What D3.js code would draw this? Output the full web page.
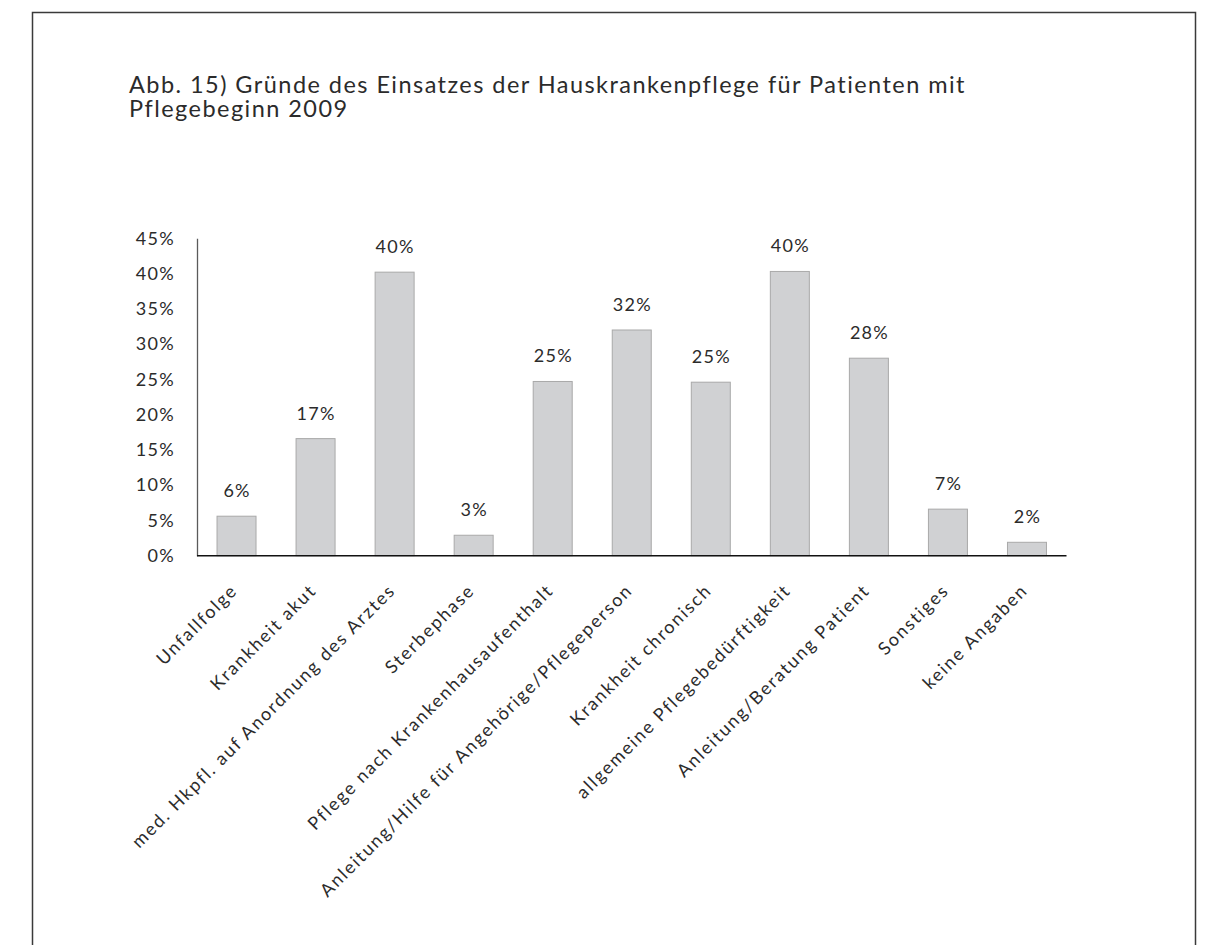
<!DOCTYPE html>
<html lang="de">
<head>
<meta charset="utf-8">
<script src="https://cdn.jsdelivr.net/npm/d3@7"></script>
<style>
  html, body { margin: 0; padding: 0; background: #fff; }
  svg { display: block; }
  text { font-family: Lato, "Noto Sans", sans-serif; fill: #2b2b2b; }
</style>
</head>
<body>
<svg id="chart" width="1208" height="945"></svg>
<script>
// Gründe des Einsatzes der Hauskrankenpflege (Anteil der Patienten, Pflegebeginn 2009)
const categories = [
  "Unfallfolge",
  "Krankheit akut",
  "med. Hkpfl. auf Anordnung des Arztes",
  "Sterbephase",
  "Pflege nach Krankenhausaufenthalt",
  "Anleitung/Hilfe für Angehörige/Pflegeperson",
  "Krankheit chronisch",
  "allgemeine Pflegebedürftigkeit",
  "Anleitung/Beratung Patient",
  "Sonstiges",
  "keine Angaben"
];
const shares = [0.056, 0.166, 0.402, 0.029, 0.247, 0.320, 0.246, 0.403, 0.280, 0.066, 0.019];
const yTicks = [0, 0.05, 0.10, 0.15, 0.20, 0.25, 0.30, 0.35, 0.40, 0.45];
const titleLines = [
  "Abb. 15) Gründe des Einsatzes der Hauskrankenpflege für Patienten mit",
  "Pflegebeginn 2009"
];

const svg = d3.select("#chart");
const pct = d3.format(".0%");

// frame around the figure
svg.append("rect")
  .attr("x", 32.5).attr("y", 12.5)
  .attr("width", 1163).attr("height", 960)
  .attr("fill", "none").attr("stroke", "#3a3a3a").attr("stroke-width", 1.5);

// title
svg.append("text")
  .attr("x", 129).attr("y", 93)
  .style("font-size", "23.5px")
  .style("letter-spacing", "1.45px")
  .selectAll("tspan").data(titleLines).join("tspan")
  .attr("x", 129).attr("dy", (d, i) => i ? 24 : 0)
  .text(d => d);

const plot = { left: 197, right: 1066.5, top: 238.3, bottom: 555.7 };

const x = d3.scaleBand()
  .domain(categories)
  .range([plot.left, plot.right])
  .paddingInner(0.494)
  .paddingOuter(0.247);

const y = d3.scaleLinear()
  .domain([0, 0.45])
  .range([plot.bottom, plot.top]);

// y axis: vertical line and percent labels, no tick marks
const yAxis = svg.append("g")
  .attr("transform", `translate(${plot.left},0)`)
  .call(d3.axisLeft(y).tickValues(yTicks).tickFormat(pct).tickSize(0).tickPadding(22));
yAxis.select(".domain").attr("stroke", "#5a5a5a").attr("stroke-width", 1.3);
yAxis.selectAll(".tick text")
  .attr("fill", "#2b2b2b")
  .style("font-family", "Lato, 'Noto Sans', sans-serif")
  .style("font-size", "18px")
  .style("letter-spacing", "1.3px");

// bars
svg.append("g").selectAll("rect").data(shares).join("rect")
  .attr("x", (d, i) => x(categories[i]) + 0.5)
  .attr("y", d => y(d))
  .attr("width", x.bandwidth() - 1)
  .attr("height", d => y(0) - y(d))
  .attr("fill", "#d0d1d3")
  .attr("stroke", "#a9a9a9")
  .attr("stroke-width", 1);

// value labels above bars
svg.append("g").selectAll("text").data(shares).join("text")
  .attr("x", (d, i) => x(categories[i]) + x.bandwidth() / 2 + 0.6)
  .attr("y", d => y(d) - 19)
  .attr("text-anchor", "middle")
  .style("font-size", "18px")
  .style("letter-spacing", "1.3px")
  .text(d => pct(d));

// x axis line
const xAxis = svg.append("g")
  .attr("transform", `translate(0,${plot.bottom})`)
  .call(d3.axisBottom(x).tickSize(0).tickPadding(0).tickFormat(""));
xAxis.select(".domain").attr("stroke", "#111").attr("stroke-width", 1.4)
  .attr("d", `M${plot.left},0H${plot.right}`);

// rotated category labels
svg.append("g").selectAll("text").data(categories).join("text")
  .attr("transform", d => `translate(${x(d) + x.bandwidth() / 2 + 2},${plot.bottom + 36}) rotate(-45)`)
  .attr("text-anchor", "end")
  .style("font-size", "18px")
  .style("letter-spacing", "1.8px")
  .text(d => d);
</script>
</body>
</html>
